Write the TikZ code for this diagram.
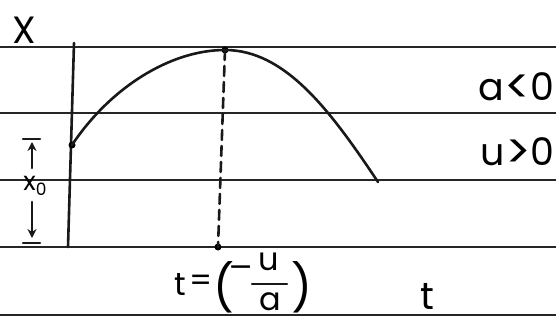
\documentclass[tikz,border=0pt]{standalone}
\usepackage{fontspec}
\setmainfont{Poppins}
\newfontfamily\dvfont{DejaVu Sans}
\usetikzlibrary{arrows.meta}
\begin{document}
\begin{tikzpicture}[x=1pt,y=-1pt,
  rule/.style={line width=2.2pt, color=black!85},
  ink/.style={line width=2.6pt, line cap=round, color=black!90},
  dot/.style={circle, fill=black, inner sep=0pt, minimum size=7pt},
  big/.style={inner sep=0pt, font=\fontsize{38}{38}\selectfont},
  mid/.style={inner sep=0pt, font=\fontsize{32}{32}\selectfont},
  small/.style={inner sep=0pt, font=\fontsize{26}{26}\selectfont}]
\useasboundingbox (0,0) rectangle (556,323);
\fill[white] (0,0) rectangle (556,323);
% ruled lines
\foreach \y in {47,113,180,247,315} \draw[rule] (0,\y) -- (556,\y);
% axis
\coordinate (axtop) at (74,43);
\coordinate (axbot) at (68,247);
\draw[ink] (axtop) -- (axbot);
% curve
\node[dot] (start) at (72,145) {};
\node[dot] (peak) at (225,50) {};
\coordinate (end) at (378,182);
\node[dot] (foot) at (218,247) {};
\draw[ink] (start.center) .. controls (110,88) and (170,50) .. (peak.center)
  .. controls (285,50) and (330,110) .. (end);
\draw[ink, dash pattern=on 10pt off 6pt] (peak.center) -- (foot.center);
% labels
\node[big, anchor=center] (X) at (24,30) {X};
\node[big, anchor=east] (acond) at (555,88) {a\raisebox{-3pt}{\fontsize{48}{48}\selectfont <}0};
\node[big, anchor=east] (ucond) at (555,153) {u\raisebox{-3pt}{\fontsize{48}{48}\selectfont >}0};
% x0 marker
\coordinate (upbot) at (32,168);
\coordinate (uptop) at (32,142);
\coordinate (dntop) at (32,202);
\coordinate (dnbot) at (32,238);
\draw[ink, -{Stealth[length=9pt,width=9pt]}] (upbot) -- (uptop);
\draw[ink] (23,139) -- (40,139);
\draw[ink, -{Stealth[length=9pt,width=9pt]}] (dntop) -- (dnbot);
\draw[ink] (23,243) -- (40,243);
\node[small, anchor=center] (xzero) at (35,186) {x\raisebox{-5pt}{\fontsize{17}{17}\selectfont 0}};
% t = (-u/a)
\node[mid] (tee) at (180,285) {t};
\node[mid] (eq) at (201,283) {=};
\node[inner sep=0pt, font=\fontsize{46}{46}\selectfont] (lp) at (224,287) {(};
\node[inner sep=0pt, font=\dvfont\fontsize{30}{30}\selectfont] (minus) at (241,271) {−};
\node[mid] (num) at (269,262) {u};
\coordinate (barl) at (252,284);
\coordinate (barr) at (287,284);
\draw[ink, line width=2.2pt] (barl) -- (barr);
\node[mid] (den) at (270,302) {a};
\node[inner sep=0pt, font=\fontsize{46}{46}\selectfont] (rp) at (302,287) {)};
\node[big] (tlab) at (427,296) {t};
\end{tikzpicture}
\end{document}
